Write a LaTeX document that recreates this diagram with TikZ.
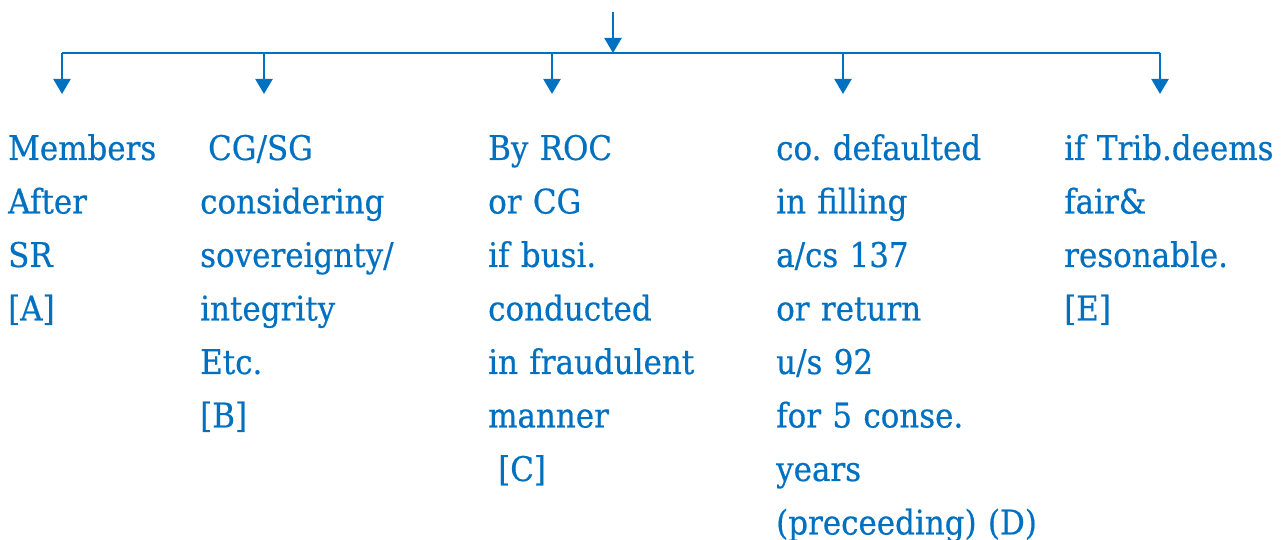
\documentclass[tikz,border=0pt]{standalone}
\usepackage{fontspec}
\setmainfont{DejaVu Serif}[FakeStretch=0.91,FakeBold=0.5]
\usetikzlibrary{arrows.meta}
\definecolor{wordblue}{HTML}{0070C0}
\frenchspacing
\begin{document}
\begin{tikzpicture}[x=1pt,y=-1pt,
  link/.style={draw=wordblue,line width=2.2pt},
  drop/.style={link,-{Triangle[width=17pt,length=15pt]}},
  col/.style={anchor=base west,inner sep=0pt,text=wordblue,text width=300pt,align=left,
    font=\fontsize{34}{53.5}\selectfont}]
\useasboundingbox (0,0) rectangle (1285,540);
% distribution bar
\coordinate (top) at (613,12);
\coordinate (hub) at (613,53);
\coordinate (barL) at (62,53);
\coordinate (barR) at (1160,53);
\foreach \n/\x in {A/62,B/264,C/552,D/843,E/1160}{
  \coordinate (b\n) at (\x,53);
  \coordinate (t\n) at (\x,94);
}
\draw[link] (barL) -- (barR);
\draw[drop] (top) -- (hub);
\foreach \n in {A,B,C,D,E}{ \draw[drop] (b\n) -- (t\n); }
% branch texts
\node[col] (txtA) at (8,160) {Members\\After\\SR\\[0pt][A]};
\node[col] (txtB) at (200,160) {\hspace*{8pt}CG/SG\\considering\\sovereignty/\\integrity\\Etc.\\[0pt][B]};
\node[col] (txtC) at (488,160) {By ROC\\or CG\\if busi.\\conducted\\in fraudulent\\manner\\[0pt]\hspace*{10pt}[C]};
\node[col] (txtD) at (776,160) {co. defaulted\\in filling\\a/cs 137\\or return\\u/s 92\\for 5 conse.\\years\\(preceeding) (D)};
\node[col] (txtE) at (1064,160) {if Trib.deems\\fair\&\\resonable.\\[0pt][E]};
\end{tikzpicture}
\end{document}
